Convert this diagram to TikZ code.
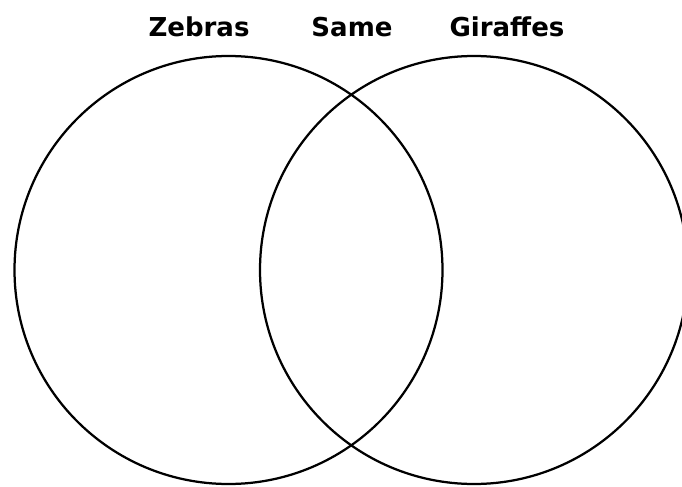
\documentclass[tikz,border=0pt]{standalone}
\usepackage{fontspec}
\setmainfont{DejaVu Sans}
\usepackage{xcolor}
\usetikzlibrary{positioning}
\definecolor{cInk}{RGB}{0,0,0}
\tikzset{
	venn/.style ={draw=cInk, line width=1.6pt},
	head/.style ={font=\bfseries\fontsize{18.5}{20}\selectfont, text=cInk, inner sep=0pt, anchor=base},
}
\begin{document}
\begin{tikzpicture}[x=0.025cm, y=-0.025cm]
	\useasboundingbox (0,0) rectangle (682,486);
	\clip (0,0) rectangle (682,486);
	% the two sets
	\draw[venn] (228.5,270) circle[radius=214];
	\draw[venn] (474,270) circle[radius=214];
	% headings
	\node[head] (zeb) at (199,37) {Zebras};
	\node[head] (same) at (352,37) {Same};
	\node[head] (gir) at (507,37) {Giraffes};
\end{tikzpicture}
\end{document}
